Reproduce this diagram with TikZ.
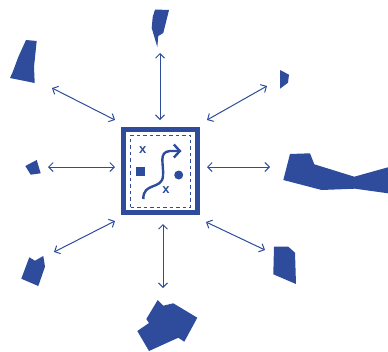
\documentclass[tikz,border=0pt]{standalone}
\usepackage{fontspec}
\setmainfont{Liberation Sans}
\usepackage{xcolor}
\usetikzlibrary{arrows.meta, positioning}
\definecolor{mapblue}{HTML}{2E4C9B}
\tikzset{
  blob/.style={fill=mapblue, draw=none},
  link/.style={draw=mapblue, line width=1pt, {Straight Barb[length=4.5pt,width=9pt]}-{Straight Barb[length=4.5pt,width=9pt]}},
  mark x/.style={text=mapblue, font=\bfseries\fontsize{13}{13}\selectfont, inner sep=0pt}
}
\begin{document}
\begin{tikzpicture}[x=1pt,y=-1pt]
\useasboundingbox (0,0) rectangle (388,351);

% Central map frame
\node[draw=mapblue, line width=4.8pt, minimum width=74.5pt, minimum height=83pt, inner sep=0pt] (frame) at (160.4,171) {};
\node[draw=mapblue, dash pattern=on 3.5pt off 3pt, line width=0.9pt, minimum width=59.6pt, minimum height=72.3pt, inner sep=0pt] (inner) at (160.5,171.2) {};
\node[mark x] (xa) at (142.8,150) {x};
\node[mark x] (xb) at (166,190) {x};
\node[fill=mapblue, minimum size=9.5pt, inner sep=0pt] (square) at (140.7,171.7) {};
\node[circle, fill=mapblue, minimum size=9pt, inner sep=0pt] (dot) at (178.7,175) {};
\draw[mapblue, line width=2.4pt, -{Straight Barb[length=6pt,width=13pt]}] (143.3,199) .. controls (143,182) and (162,190) .. (163,176)
  .. controls (164,164) and (158,152) .. (170,151) -- (181.5,151);

% Outlying regions
\fill[blob] (155,9.5) -- (169,10) -- (163.3,33) -- (158.3,36) -- (157.3,47) -- (151.7,28) -- (152.7,17) -- cycle;
\fill[blob] (26,40) -- (36.7,41) -- (34,67) -- (34.7,83) -- (10,78) -- (12.7,72) -- (18.3,57) -- cycle;
\fill[blob] (280,70) -- (289,74.7) -- (288,82.7) -- (280,88.7) -- cycle;
\fill[blob] (290,154) -- (310,153.3) -- (314.3,164.3) -- (354.3,176.7) -- (388,167.3) -- (388,193.3) -- (355,188.7) -- (321.7,190) -- (283.3,180) -- cycle;
\fill[blob] (25.3,166) -- (36.7,160) -- (40.7,173.3) -- (30.7,174.7) -- cycle;
\fill[blob] (29.3,257.3) -- (35,260.7) -- (43.3,256) -- (45,266.7) -- (38.3,286) -- (21.3,278.7) -- cycle;
\fill[blob] (274,246.7) -- (288.3,246.7) -- (295,252.7) -- (296,284) -- (273.3,274.3) -- cycle;
\fill[blob] (157.7,300) -- (163.3,305.7) -- (173.3,303.3) -- (197.3,317.7) -- (184.3,341.7) -- (178.3,337.7) -- (149,351) -- (137.3,331) -- (149,323) -- (146.3,319) -- cycle;

% Arrow ends
\coordinate (n0) at (160,120);   \coordinate (n1) at (160,53);
\coordinate (ne0) at (207,120);  \coordinate (ne1) at (267,86);
\coordinate (e0) at (207,167);   \coordinate (e1) at (270,167);
\coordinate (se0) at (206,222);  \coordinate (se1) at (265,250);
\coordinate (s0) at (163,224);   \coordinate (s1) at (163,288);
\coordinate (sw0) at (115,221);  \coordinate (sw1) at (54,252);
\coordinate (w0) at (115,167);   \coordinate (w1) at (48,167);
\coordinate (nw0) at (115,120);  \coordinate (nw1) at (52,88);

\foreach \dir in {n,ne,e,se,s,sw,w,nw}
  \draw[link] (\dir0) -- (\dir1);

\end{tikzpicture}
\end{document}
